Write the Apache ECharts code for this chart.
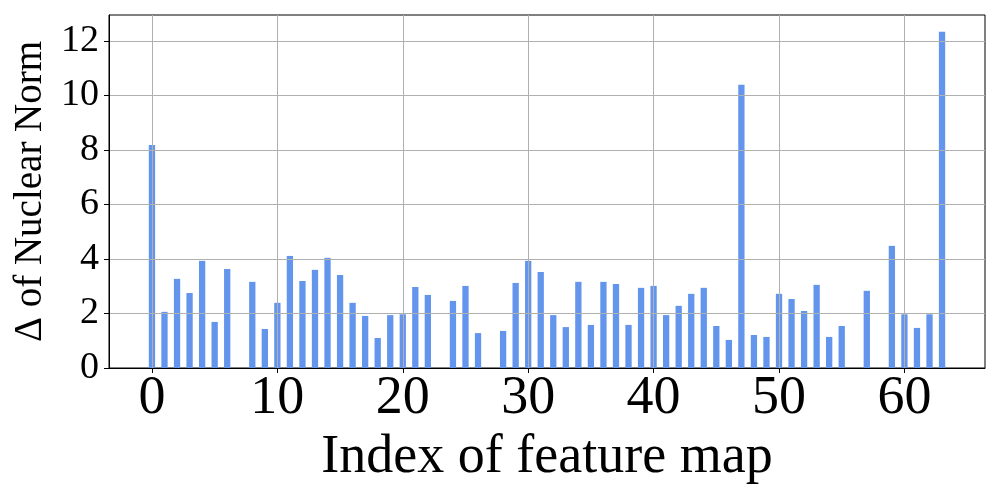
<!DOCTYPE html>
<html>
<head>
<meta charset="utf-8">
<script src="https://cdn.jsdelivr.net/npm/echarts@6/dist/echarts.min.js"></script>
<style>
  html, body { margin: 0; padding: 0; background: #fff; }
  #main { width: 1000px; height: 500px; }
</style>
</head>
<body>
<div id="main"></div>
<script>
// feature map index 0..63, value = change of nuclear norm
var mapIndex = [];
for (var i = 0; i < 64; i++) mapIndex.push(i);
var deltaNorm = [
  8.18, 2.06, 3.27, 2.75, 3.93, 1.69, 3.63, 0,    3.16, 1.43,
  2.39, 4.11, 3.19, 3.60, 4.04, 3.41, 2.39, 1.91, 1.10, 1.94,
  1.97, 2.97, 2.68, 0,    2.46, 3.01, 1.28, 0,    1.36, 3.12,
  3.93, 3.52, 1.94, 1.50, 3.16, 1.58, 3.16, 3.08, 1.58, 2.94,
  3.01, 1.94, 2.28, 2.72, 2.94, 1.54, 1.03, 10.39, 1.21, 1.14,
  2.72, 2.53, 2.09, 3.05, 1.14, 1.54, 0,    2.83, 0,    4.48,
  1.97, 1.47, 1.97, 12.33
];
var xTicks = [0, 10, 20, 30, 40, 50, 60];
var yTicks = [0, 2, 4, 6, 8, 10, 12];

var chart = echarts.init(document.getElementById('main'));

// matplotlib style margins: bars of width 0.5, 5% padding
var barHalf = 0.25;
var xPad = (mapIndex[mapIndex.length - 1] + 2 * barHalf) * 0.05;
var yMax = Math.max.apply(null, deltaNorm) * 1.05;
var serif = 'Liberation Serif';

var option = {
  animation: false,
  grid: {
    left: 109, right: 15, top: 15, bottom: 132,
    show: true, borderColor: '#000', borderWidth: 1
  },
  xAxis: {
    type: 'value',
    z: 3,
    min: -barHalf - xPad,
    max: mapIndex[mapIndex.length - 1] + barHalf + xPad,
    name: 'Index of feature map',
    nameLocation: 'middle',
    nameGap: 60,
    nameTextStyle: { fontFamily: serif, fontSize: 54, color: '#000' },
    axisLine: { show: true, onZero: false, lineStyle: { color: '#000', width: 1 } },
    axisTick: { show: true, length: 5, lineStyle: { color: '#000' }, customValues: xTicks },
    axisLabel: { fontFamily: serif, fontSize: 54, color: '#000', margin: 4, customValues: xTicks },
    splitLine: { show: true, lineStyle: { color: '#b0b0b0', width: 1 } }
  },
  yAxis: {
    type: 'value',
    z: 3,
    min: 0,
    max: yMax,
    name: 'Δ of Nuclear Norm',
    nameLocation: 'middle',
    nameRotate: 90,
    nameGap: 58,
    nameTextStyle: { fontFamily: serif, fontSize: 39, color: '#000' },
    axisLine: { show: true, onZero: false, lineStyle: { color: '#000', width: 1 } },
    axisTick: { show: true, length: 5, lineStyle: { color: '#000' }, customValues: yTicks },
    axisLabel: { fontFamily: serif, fontSize: 38, color: '#000', margin: 10, customValues: yTicks },
    splitLine: { show: true, lineStyle: { color: '#b0b0b0', width: 1 } }
  },
  series: [{
    type: 'bar',
    data: mapIndex.map(function (k, j) { return [k, deltaNorm[j]]; }),
    barWidth: 6.3,
    itemStyle: { color: '#6495ED' }
  }]
};
chart.setOption(option);
</script>
</body>
</html>
